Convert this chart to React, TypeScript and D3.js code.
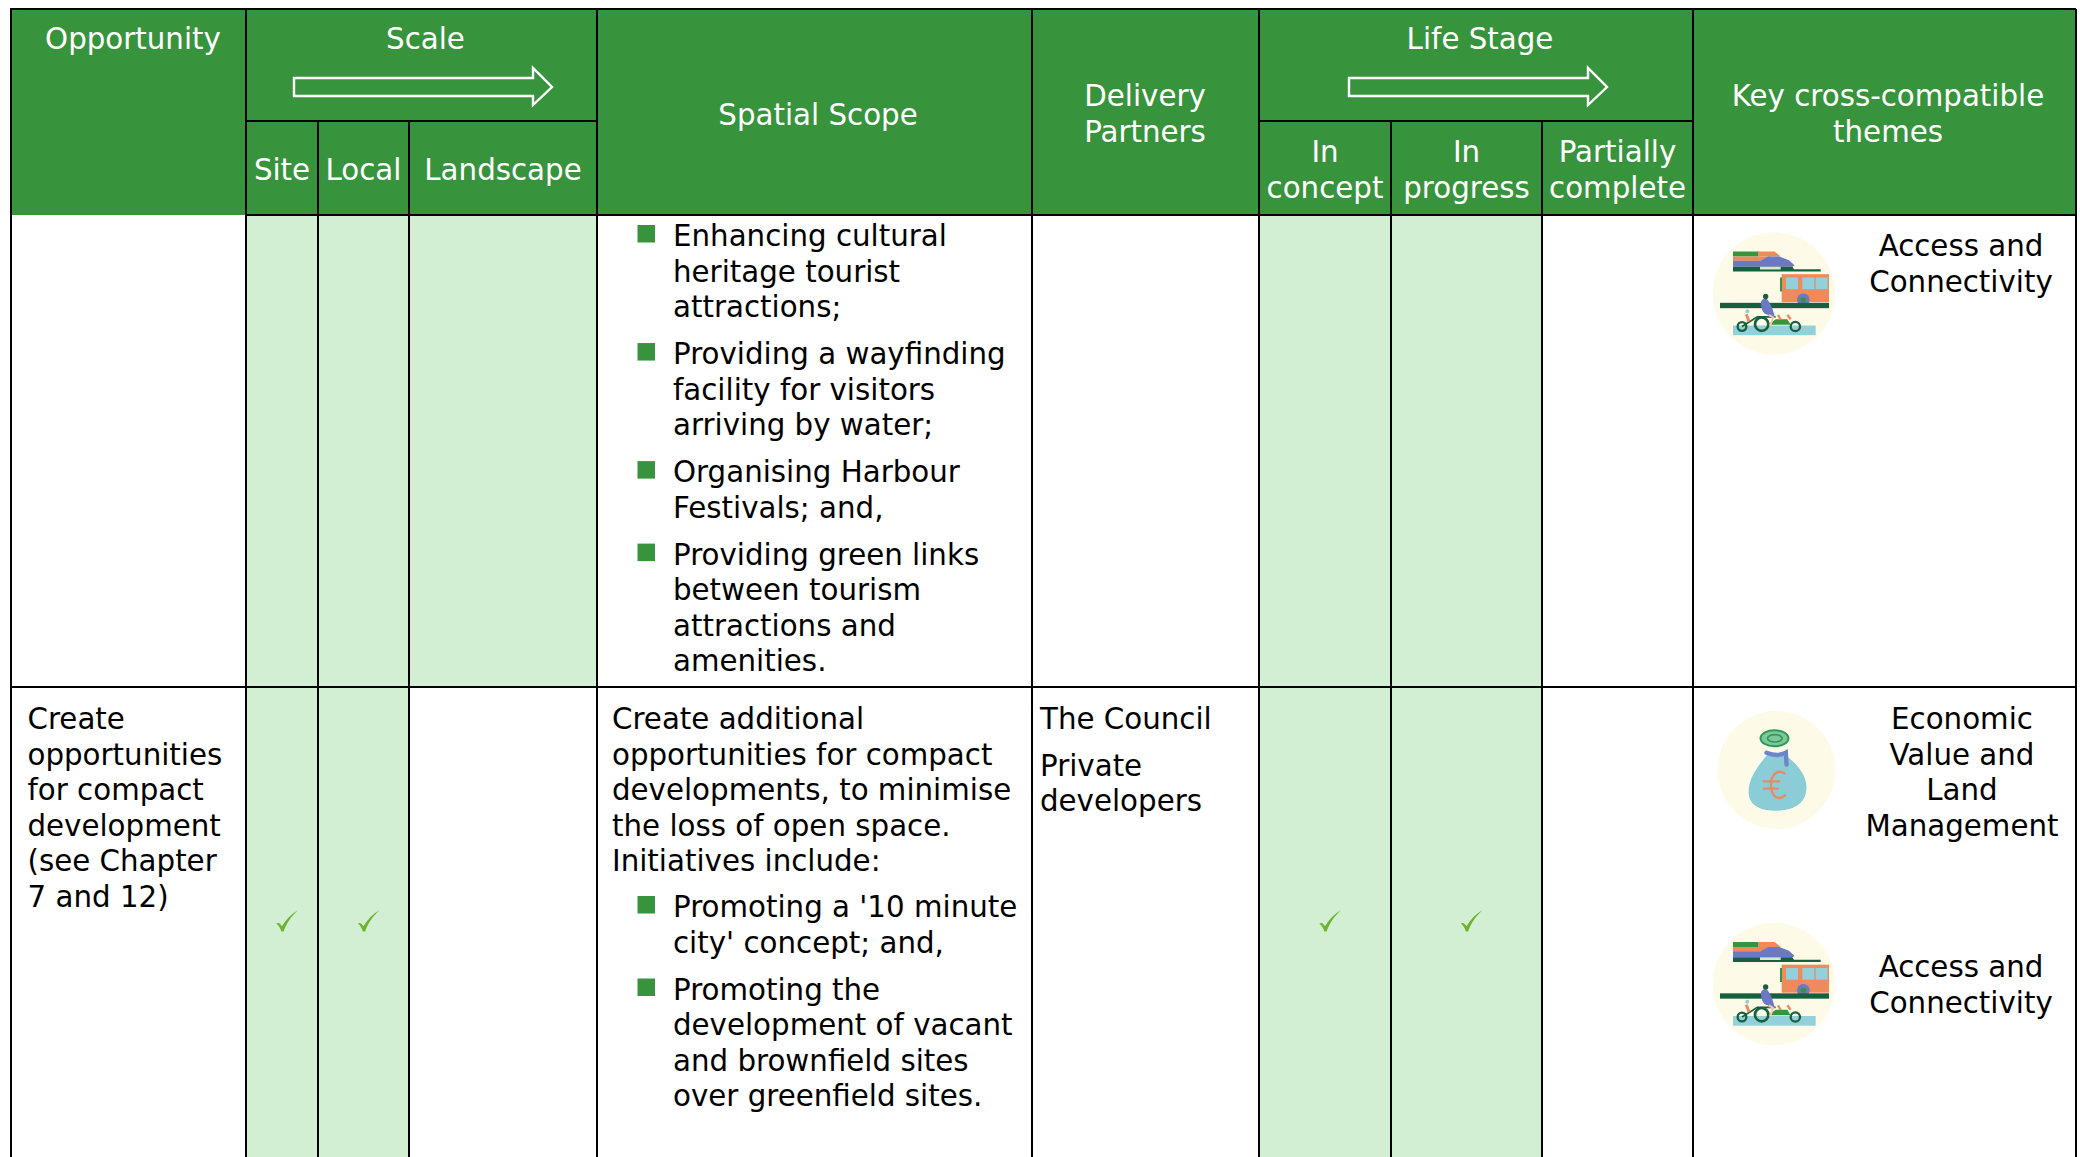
import * as d3 from "d3";

// table content
const columns = ["Opportunity", "Site", "Local", "Landscape", "Spatial Scope", "Delivery Partners", "In concept", "In progress", "Partially complete", "Key cross-compatible themes"];
const scaleColumns = ["Site", "Local", "Landscape"];
const stageColumns = ["In concept", "In progress", "Partially complete"];

const shadedRow1 = ["Site", "Local", "Landscape", "In concept", "In progress"];
const shadedRow2 = ["Site", "Local", "In concept", "In progress"];
const tickedRow2 = ["Site", "Local", "In concept", "In progress"];

const row1Bullets = [
  ["Enhancing cultural", "heritage tourist", "attractions;"],
  ["Providing a wayfinding", "facility for visitors", "arriving by water;"],
  ["Organising Harbour", "Festivals; and,"],
  ["Providing green links", "between tourism", "attractions and", "amenities."],
];
const row2Opportunity = ["Create", "opportunities", "for compact", "development", "(see Chapter", "7 and 12)"];
const row2Intro = ["Create additional", "opportunities for compact", "developments, to minimise", "the loss of open space.", "Initiatives include:"];
const row2Bullets = [
  ["Promoting a '10 minute", "city' concept; and,"],
  ["Promoting the", "development of vacant", "and brownfield sites", "over greenfield sites."],
];
const row2Partners = [["The Council"], ["Private", "developers"]];
const accessLabel = ["Access and", "Connectivity"];
const economicLabel = ["Economic", "Value and", "Land", "Management"];

// layout
const W = 2080;
const H = 1157;
const edges = [11, 246, 318, 409, 597, 1032, 1259, 1391, 1542, 1693, 2076];
const headTop = 9;
const headMid = 121;
const headBottom = 215;
const rowLine = 687;
const lineH = 35.55;
const FONT = 29.3;
const GREEN = "#38943c";
const LIGHT = "#d2eed3";

const left = d3.scaleOrdinal<string, number>().domain(columns).range(edges.slice(0, -1));
const right = d3.scaleOrdinal<string, number>().domain(columns).range(edges.slice(1));
const mid = (c: string) => (left(c) + right(c)) / 2;

const lineGen = d3.line();

const Lines = ({lines, x, y, anchor = "start", fill = "#000"}: {lines: string[]; x: number; y: number; anchor?: string; fill?: string}) => (
  <text x={x} y={y} textAnchor={anchor} fill={fill} fontSize={FONT} fontFamily="'DejaVu Sans', Verdana, sans-serif">
    {lines.map((l, i) => (
      <tspan key={i} x={x} y={y + i * lineH}>
        {l}
      </tspan>
    ))}
  </text>
);

const Arrow = ({x0, x1}: {x0: number; x1: number}) => {
  const neck = x1 - 19;
  const pts: [number, number][] = [
    [x0, 78], [neck, 78], [neck, 68], [x1, 87], [neck, 105], [neck, 96], [x0, 96],
  ];
  return <path d={lineGen(pts) + "Z"} fill="none" stroke="#fff" strokeWidth={2.4} />;
};

const Tick = ({x, y}: {x: number; y: number}) => (
  <path
    transform={`translate(${x},${y}) scale(1.12)`}
    d="M-9.5,0.5 C-7.5,-1 -6,0.5 -4.5,3 C-1,-3 4,-8 10,-11.5 C4,-6 0,-0.5 -3,7.5 L-5,7.5 C-6,4.5 -7.5,2 -9.5,0.5Z"
    fill="#6fb22e"
  />
);

const BulletList = ({groups, x, startY}: {groups: string[][]; x: number; startY: number}) => {
  let y = startY;
  return (
    <g>
      {groups.map((g, i) => {
        const top = y;
        y += g.length * lineH + 11.4;
        return (
          <g key={i}>
            <rect x={x - 35.5} y={top - 21} width={17.5} height={17.5} fill={GREEN} />
            <Lines lines={g} x={x} y={top} />
          </g>
        );
      })}
    </g>
  );
};

// icons are drawn around the disc centre
const TransportIcon = ({cx, cy}: {cx: number; cy: number}) => {
  const dark = "#17603f";
  const orange = "#ee8a5c";
  const blue = "#6b78c4";
  const pale = "#92d0da";
  return (
    <g transform={`translate(${cx},${cy}) scale(${1 / 3}) translate(-280,-248)`}>
      <circle cx={280} cy={248} r={184} fill="#fdfbe8" />
      <rect x={157} y={122} width={78} height={15} fill={GREEN} />
      <path d="M232,122 H282 L300,137 H232Z" fill={orange} />
      <rect x={157} y={137} width={110} height={13} fill={orange} />
      <path d="M157,150 H240 L262,137 H296 L325,148 L342,164 L335,168 H157Z" fill={blue} />
      <path d="M157,168 H335 L340,175 H420 V182 H157Z" fill={dark} />
      <rect x={238} y={168} width={62} height={8} fill="#d8e8d0" />
      <rect x={303} y={190} width={142} height={84} fill={orange} />
      <rect x={298} y={200} width={6} height={42} fill={GREEN} />
      {[316, 365, 405].map((wx) => (
        <rect key={wx} x={wx} y={200} width={36} height={35} fill={pale} />
      ))}
      <circle cx={368} cy={267} r={19} fill={blue} />
      <circle cx={368} cy={267} r={8} fill={GREEN} />
      <rect x={118} y={276} width={327} height={16} fill={dark} />
      <rect x={157} y={344} width={248} height={29} fill={pale} />
      <circle cx={184} cy={347} r={13} fill="none" stroke={dark} strokeWidth={7} />
      <circle cx={243} cy={340} r={20} fill="none" stroke={dark} strokeWidth={8} />
      <circle cx={344} cy={347} r={14} fill="none" stroke={dark} strokeWidth={7} />
      <path d="M262,342 H330 L320,325 H285Z" fill={GREEN} />
      <path d="M184,347 L230,318 H285" fill="none" stroke={dark} strokeWidth={5} />
      <path d="M241,278 C240,268 248,262 258,264 C272,280 278,300 282,318 L264,320 L262,312 C250,310 242,300 241,278Z" fill={blue} />
      <circle cx={255} cy={257} r={8} fill={dark} />
      <path d="M264,312 L278,320 L268,345" fill="none" stroke="#f3c9a8" strokeWidth={6} />
      <path d="M197,310 L205,332" stroke={orange} strokeWidth={9} />
      <circle cx={200} cy={301} r={6} fill={pale} />
      <path d="M292,312 L300,326 M320,312 L330,325" stroke={orange} strokeWidth={7} />
    </g>
  );
};

const MoneyIcon = ({cx, cy}: {cx: number; cy: number}) => (
  <g transform={`translate(${cx},${cy}) scale(${1 / 3}) translate(-288,-238)`}>
    <circle cx={288} cy={238} r={177} fill="#fdfbe8" />
    <path d="M262,190 C225,235 200,270 205,315 C212,350 250,362 295,360 C345,358 378,335 378,290 C378,250 345,215 310,190Z" fill="#8bcdd6" />
    <ellipse cx={282} cy={143} rx={42} ry={24} fill="#7fc79a" stroke="#2f9a58" strokeWidth={6} />
    <ellipse cx={283} cy={143} rx={22} ry={11} fill="none" stroke="#2f9a58" strokeWidth={5} />
    <path d="M258,186 C280,195 300,195 316,186 L318,222" fill="none" stroke="#6b86c8" strokeWidth={13} strokeLinecap="round" />
    <path d="M312,248 C285,232 268,262 272,290 C276,322 295,330 314,314 M250,272 H296 M250,294 H292" fill="none" stroke="#e98a63" strokeWidth={7} strokeLinecap="round" />
  </g>
);

const App = () => {
  const headerCell = (c: string, y0: number) => (
    <rect key={c} x={left(c)} y={y0} width={right(c) - left(c)} height={headBottom - y0} fill={GREEN} />
  );
  return (
    <svg width={W} height={H} style={{position: "absolute", left: 0, top: 0, background: "#fff"}}>
      {shadedRow1.map((c) => (
        <rect key={c} x={left(c)} y={headBottom} width={right(c) - left(c)} height={rowLine - headBottom} fill={LIGHT} />
      ))}
      {shadedRow2.map((c) => (
        <rect key={c} x={left(c)} y={rowLine} width={right(c) - left(c)} height={H - rowLine} fill={LIGHT} />
      ))}
      {columns.map((c) => headerCell(c, headTop))}

      {/* grid */}
      <g stroke="#000" strokeWidth={2} fill="none">
        <line x1={edges[0] - 1} x2={right("Key cross-compatible themes")} y1={headTop} y2={headTop} />
        <line x1={edges[0]} x2={right("Key cross-compatible themes")} y1={rowLine} y2={rowLine} />
        <line x1={left("Site")} x2={right("Key cross-compatible themes")} y1={headBottom} y2={headBottom} />
        <line x1={left("Site")} x2={right("Landscape")} y1={headMid} y2={headMid} />
        <line x1={left("In concept")} x2={right("Partially complete")} y1={headMid} y2={headMid} />
        {edges.map((x) => {
          const inner = x === left("Local") || x === left("Landscape") || x === left("In progress") || x === left("Partially complete");
          return <line key={x} x1={x} x2={x} y1={inner ? headMid : headTop} y2={H} />;
        })}
      </g>

      {/* header */}
      <Lines lines={["Opportunity"]} x={133} y={49} anchor="middle" fill="#fff" />
      <Lines lines={["Scale"]} x={425.5} y={49} anchor="middle" fill="#fff" />
      <Arrow x0={294} x1={552} />
      {scaleColumns.map((c) => (
        <Lines key={c} lines={[c]} x={mid(c)} y={180} anchor="middle" fill="#fff" />
      ))}
      <Lines lines={["Spatial Scope"]} x={818} y={125} anchor="middle" fill="#fff" />
      <Lines lines={["Delivery", "Partners"]} x={1145} y={106} anchor="middle" fill="#fff" />
      <Lines lines={["Life Stage"]} x={1480} y={49} anchor="middle" fill="#fff" />
      <Arrow x0={1349} x1={1607} />
      {stageColumns.map((c) => (
        <Lines key={c} lines={c.split(" ")} x={mid(c)} y={162} anchor="middle" fill="#fff" />
      ))}
      <Lines lines={["Key cross-compatible", "themes"]} x={1888} y={106} anchor="middle" fill="#fff" />

      {/* first row */}
      <BulletList groups={row1Bullets} x={673} startY={246} />
      <TransportIcon cx={1774} cy={293.5} />
      <Lines lines={accessLabel} x={1961} y={256} anchor="middle" />

      {/* second row */}
      <Lines lines={row2Opportunity} x={27.5} y={729} />
      <Lines lines={row2Intro} x={612} y={729} />
      <BulletList groups={row2Bullets} x={673} startY={917} />
      <Lines lines={row2Partners[0]} x={1040} y={729} />
      <Lines lines={row2Partners[1]} x={1040} y={775.5} />
      {tickedRow2.map((c) => (
        <Tick key={c} x={mid(c) + 5} y={923} />
      ))}
      <MoneyIcon cx={1776.5} cy={770} />
      <Lines lines={economicLabel} x={1962} y={729} anchor="middle" />
      <TransportIcon cx={1774} cy={984} />
      <Lines lines={accessLabel} x={1961} y={977} anchor="middle" />
    </svg>
  );
};

export default App;
